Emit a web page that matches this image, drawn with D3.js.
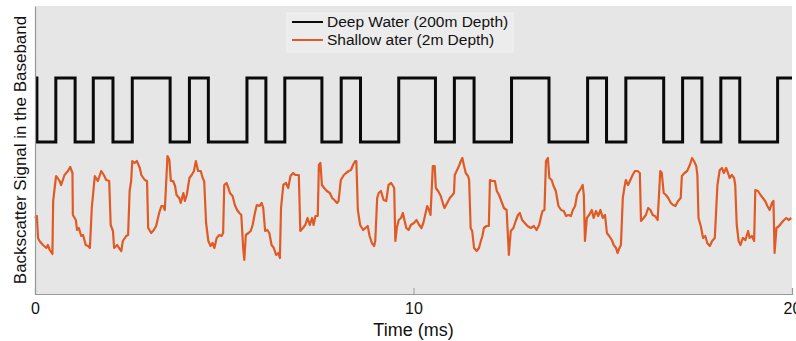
<!DOCTYPE html>
<html><head><meta charset="utf-8">
<script src="https://cdn.jsdelivr.net/npm/d3@7"></script>
<style>
html,body{margin:0;padding:0;background:#fff;}
text{font-family:"Liberation Sans",Arial,Helvetica,sans-serif;fill:#111;}
</style></head>
<body>
<svg id="chart" width="796" height="341"></svg>
<script>
// ---- data ----
const seriesNames = ["Deep Water (200m Depth)", "Shallow ater (2m Depth)"];
const xTicks = [0, 10, 20];
const xLabel = "Time (ms)";
const yLabel = "Backscatter Signal in the Baseband";

// Deep water: switching instants (ms) of the square wave, starts high
const deepEdges = [0, 0.05, 0.55, 1.06, 1.54, 2.06, 2.57, 3.57, 4.08, 4.58, 5.60, 6.10, 6.60, 7.58, 8.09, 8.60,
  9.61, 10.58, 11.08, 11.60, 12.59, 13.58, 14.60, 15.10, 15.61, 16.61, 17.11, 17.62, 18.12, 18.62, 19.62, 20];
const deepHigh = 2.16, deepLow = 1.52;

// Shallow water: sampled trace (time ms, amplitude)
const shallowT = [0.00,0.05,0.08,0.12,0.21,0.30,0.34,0.39,0.46,0.48,0.55,0.56,0.65,0.69,0.78,0.87,0.93,0.99,1.00,1.08,
1.11,1.16,1.22,1.27,1.34,1.40,1.45,1.50,1.55,1.58,1.66,1.75,1.82,1.88,1.96,2.00,2.06,2.09,2.17,2.22,
2.28,2.32,2.41,2.46,2.50,2.54,2.57,2.63,2.69,2.77,2.81,2.90,2.96,2.99,3.07,3.14,3.20,3.28,3.34,3.39,
3.43,3.50,3.55,3.59,3.65,3.70,3.74,3.81,3.85,3.92,3.96,4.01,4.08,4.14,4.20,4.25,4.31,4.38,4.43,4.47,
4.52,4.58,4.64,4.69,4.74,4.80,4.87,4.93,4.97,5.00,5.06,5.11,5.15,5.22,5.28,5.34,5.40,5.45,5.50,5.53,
5.57,5.64,5.70,5.75,5.81,5.86,5.93,5.99,6.03,6.08,6.14,6.19,6.25,6.31,6.37,6.43,6.47,6.50,6.56,6.63,
6.69,6.75,6.82,6.88,6.97,7.01,7.08,7.14,7.20,7.26,7.32,7.36,7.41,7.47,7.50,7.54,7.58,7.64,7.71,7.79,
7.85,7.91,7.98,8.02,8.08,8.16,8.22,8.29,8.35,8.40,8.46,8.49,8.53,8.59,8.67,8.73,8.79,8.84,8.90,8.96,
8.99,9.04,9.08,9.14,9.21,9.28,9.34,9.41,9.46,9.49,9.52,9.56,9.61,9.67,9.72,9.76,9.81,9.87,9.93,10.01,
10.08,10.15,10.21,10.26,10.32,10.36,10.41,10.45,10.51,10.56,10.59,10.65,10.72,10.79,10.82,10.89,10.96,11.03,11.07,11.09,
11.14,11.20,11.25,11.29,11.33,11.38,11.44,11.47,11.51,11.55,11.60,11.67,11.73,11.78,11.82,11.86,11.93,11.99,12.02,12.08,
12.15,12.20,12.26,12.32,12.39,12.46,12.52,12.57,12.64,12.70,12.76,12.81,12.87,12.94,13.01,13.10,13.18,13.25,13.32,13.38,
13.41,13.46,13.50,13.55,13.59,13.65,13.70,13.76,13.83,13.90,13.97,14.03,14.09,14.16,14.21,14.27,14.32,14.38,14.43,14.47,
14.50,14.53,14.58,14.64,14.71,14.76,14.82,14.88,14.94,15.00,15.06,15.11,15.17,15.24,15.29,15.35,15.39,15.44,15.48,15.53,
15.57,15.61,15.67,15.73,15.79,15.85,15.92,15.98,16.01,16.08,16.14,16.20,16.26,16.32,16.38,16.45,16.52,16.56,16.61,16.67,
16.73,16.80,16.86,16.92,16.99,17.06,17.09,17.16,17.23,17.30,17.36,17.41,17.47,17.50,17.53,17.59,17.65,17.71,17.76,17.83,
17.89,17.96,18.03,18.09,18.15,18.20,18.26,18.31,18.35,18.41,18.47,18.50,18.54,18.59,18.64,18.70,18.77,18.84,18.88,18.94,
19.00,19.03,19.10,19.17,19.23,19.29,19.35,19.41,19.47,19.51,19.54,19.59,19.66,19.72,19.79,19.85,19.91,19.98];
const shallowV = [0.76,0.78,0.56,0.53,0.49,0.46,0.49,0.44,0.40,0.93,1.16,1.18,1.13,1.09,1.19,1.23,1.27,1.21,0.79,0.74,
0.64,0.66,0.58,0.59,0.49,0.48,0.46,0.86,1.06,1.18,1.13,1.23,1.19,1.14,1.13,0.69,0.63,0.46,0.49,0.46,
0.43,0.53,0.58,0.59,1.03,1.13,1.33,1.31,1.33,1.26,1.19,1.14,1.13,0.66,0.61,0.64,0.68,0.81,0.88,0.88,
0.84,1.38,1.34,1.13,1.13,1.08,0.99,0.96,0.91,1.01,0.93,0.99,1.16,1.19,1.23,1.33,1.23,1.23,1.16,1.13,
0.71,0.53,0.48,0.51,0.46,0.56,0.59,0.58,0.61,1.09,1.11,1.06,1.01,0.98,0.89,0.84,0.81,0.79,0.46,0.34,
0.59,0.61,0.63,0.69,0.81,0.89,0.88,0.91,0.86,0.63,0.64,0.61,0.49,0.46,0.39,0.41,0.36,0.86,1.09,1.11,
1.06,1.18,1.21,1.19,1.19,0.63,0.66,0.69,0.76,0.69,0.76,0.69,0.78,0.78,1.29,1.31,1.09,1.06,1.03,1.01,
0.96,0.94,0.91,0.93,1.14,1.19,1.21,1.23,1.24,1.29,1.33,1.33,0.84,0.69,0.64,0.66,0.68,0.58,0.51,0.48,
0.53,0.96,1.01,1.03,0.94,0.93,1.09,1.11,1.08,1.06,0.53,0.66,0.74,0.76,0.81,0.74,0.66,0.64,0.69,0.71,
0.74,0.69,0.66,0.71,0.81,0.88,0.84,0.79,1.28,1.28,1.06,1.03,0.98,0.89,0.86,0.91,0.96,0.99,1.01,1.19,
1.23,1.28,1.33,1.36,1.29,1.21,1.18,1.14,0.66,0.63,0.46,0.43,0.46,0.53,0.58,0.66,0.68,0.68,1.14,1.13,
1.13,1.03,0.99,0.93,0.86,0.84,0.39,0.63,0.66,0.73,0.79,0.81,0.74,0.71,0.68,0.66,0.68,0.64,0.69,0.79,
0.83,0.84,1.33,1.36,1.16,1.14,1.08,1.03,0.88,0.84,0.83,0.78,0.79,0.78,0.84,0.88,0.99,1.03,1.06,1.09,
0.99,0.53,0.76,0.79,0.84,0.76,0.83,0.78,0.84,0.76,0.79,0.61,0.58,0.54,0.49,0.46,0.41,0.46,0.49,0.96,
1.06,1.14,1.09,1.14,1.19,1.23,1.23,1.21,0.73,0.76,0.79,0.86,0.84,0.79,0.78,0.74,1.23,1.21,1.01,0.99,
0.96,0.91,0.89,0.88,0.93,0.96,1.18,1.21,1.23,1.29,1.36,1.33,1.28,1.19,0.76,0.68,0.56,0.58,0.51,0.48,
0.53,0.56,1.09,1.24,1.26,1.21,1.26,1.21,1.16,1.19,1.16,1.09,0.69,0.53,0.49,0.56,0.54,0.63,0.56,0.58,
0.53,1.04,1.03,0.99,0.96,0.93,0.88,0.84,0.91,0.93,0.41,0.66,0.68,0.71,0.74,0.76,0.74,0.76];

// ---- build ----
const svg = d3.select("#chart");
const W = 796, H = 341;
const m = {left: 35, right: 4, top: 6, bottom: 47};
const iw = W - m.left - m.right, ih = H - m.top - m.bottom;

const x = d3.scaleLinear().domain([0, 20]).range([m.left, m.left + iw]);
const y = d3.scaleLinear().domain([0, 2.88]).range([m.top + ih, m.top]);

svg.append("rect").attr("x", m.left).attr("y", m.top).attr("width", iw).attr("height", ih)
  .attr("fill", "#e6e6e6");

// deep series as step points
const deepPts = [];
for (let i = 0; i < deepEdges.length - 1; i++) {
  const lvl = (i % 2 === 0) ? deepHigh : deepLow;
  deepPts.push([deepEdges[i], lvl], [deepEdges[i + 1], lvl]);
}
const shallowPts = shallowT.map((t, i) => [t, shallowV[i]]);

const line = d3.line().x(d => x(d[0])).y(d => y(d[1]));

svg.append("path").datum(deepPts).attr("d", line)
  .attr("fill", "none").attr("stroke", "#0a0a0a").attr("stroke-width", 3).attr("stroke-linejoin", "miter");
svg.append("path").datum(shallowPts).attr("d", line)
  .attr("fill", "none").attr("stroke", "#e05a25").attr("stroke-width", 2.2).attr("stroke-linejoin", "round");

// axes
const xAxis = d3.axisBottom(x).tickValues(xTicks).tickSize(-6).tickPadding(9).tickFormat(d3.format("d"));
const gx = svg.append("g").attr("transform", `translate(0,${m.top + ih})`).call(xAxis);
gx.select(".domain").attr("stroke", "#999").attr("stroke-width", 1.2);
gx.selectAll(".tick line").attr("stroke", "#999");
gx.selectAll(".tick text").attr("font-size", 16).attr("fill", "#111")
  .style("font-family", '"Liberation Sans",Arial,sans-serif');

const yAxis = d3.axisLeft(y).tickValues([]).tickSizeOuter(0);
const gy = svg.append("g").attr("transform", `translate(${m.left},0)`).call(yAxis);
gy.select(".domain").attr("stroke", "#999").attr("stroke-width", 1.2);

svg.append("text").attr("x", x(10)).attr("y", 336).attr("text-anchor", "middle")
  .attr("font-size", 18).text(xLabel);
svg.append("text").attr("transform", "translate(26,150) rotate(-90)").attr("text-anchor", "middle")
  .attr("font-size", 17).text(yLabel);

// legend
const lg = svg.append("g");
lg.append("rect").attr("x", 287).attr("y", 13).attr("width", 226).attr("height", 39)
  .attr("fill", "#ececec").attr("stroke", "#f2f2f2");
const legColors = ["#0a0a0a", "#e05a25"];
seriesNames.forEach((n, i) => {
  const ly = 22 + i * 18;
  lg.append("line").attr("x1", 292).attr("x2", 323).attr("y1", ly).attr("y2", ly)
    .attr("stroke", legColors[i]).attr("stroke-width", 2);
  lg.append("text").attr("x", 327).attr("y", ly + 5).attr("font-size", 15.5).text(n);
});
</script>
</body></html>
